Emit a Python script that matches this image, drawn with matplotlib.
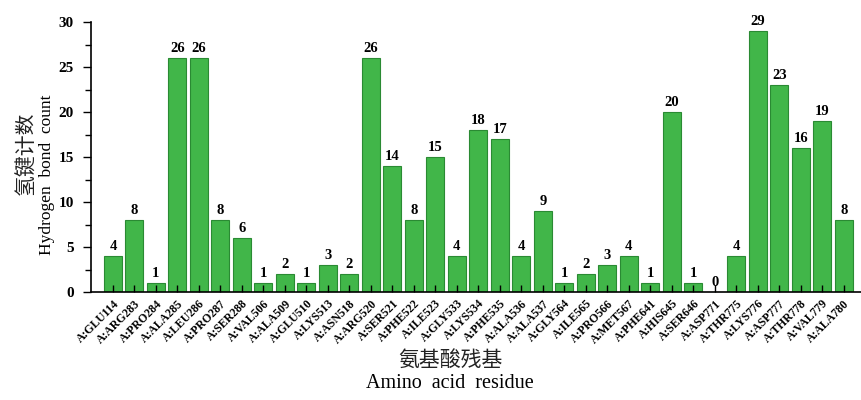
import matplotlib
matplotlib.use("Agg")
import matplotlib.pyplot as plt
from matplotlib.ticker import MultipleLocator

residues = ["A:GLU114", "A:ARG283", "A:PRO284", "A:ALA285", "A:LEU286", "A:PRO287",
            "A:SER288", "A:VAL506", "A:ALA509", "A:GLU510", "A:LYS513", "A:ASN518",
            "A:ARG520", "A:SER521", "A:PHE522", "A:ILE523", "A:GLY533", "A:LYS534",
            "A:PHE535", "A:ALA536", "A:ALA537", "A:GLY564", "A:ILE565", "A:PRO566",
            "A:MET567", "A:PHE641", "A:HIS645", "A:SER646", "A:ASP771", "A:THR775",
            "A:LYS776", "A:ASP777", "A:THR778", "A:VAL779", "A:ALA780"]
counts = [4, 8, 1, 26, 26, 8, 6, 1, 2, 1, 3, 2, 26, 14, 8, 15, 4, 18, 17, 4, 9,
          1, 2, 3, 4, 1, 20, 1, 0, 4, 29, 23, 16, 19, 8]

serif = ["Liberation Serif", "DejaVu Serif"]
cjk = ["Noto Sans CJK SC", "DejaVu Sans"]

fig = plt.figure(figsize=(8.62, 4.0), dpi=100)
ax = fig.add_axes([0.1056, 0.27, 0.8944, 0.675])

x = list(range(len(residues)))
ax.bar(x, counts, width=0.84, color="#41b649", edgecolor="#2a8a33", linewidth=0.8)
for xi, v in zip(x, counts):
    ax.text(xi, v + 0.3, str(v), ha="center", va="bottom", fontsize=10.5,
            fontweight="bold", family=serif)

ax.set_xlim(-1.02, 34.85)
ax.set_ylim(0, 30)
ax.yaxis.set_major_locator(MultipleLocator(5))
ax.yaxis.set_minor_locator(MultipleLocator(2.5))
ax.set_xticks(x)
ax.set_xticklabels(residues, rotation=45, ha="right", rotation_mode="anchor",
                   fontsize=8.5, fontweight="bold", family=serif)
for lbl in ax.get_yticklabels():
    lbl.set_fontfamily(serif)
    lbl.set_fontweight("bold")
    lbl.set_fontsize(11)
ax.tick_params(axis="x", direction="in", length=5, width=1, pad=4)
ax.tick_params(axis="y", which="major", direction="out", length=5.5, width=1, pad=7)
ax.tick_params(axis="y", which="minor", direction="out", length=4, width=1)
for s in ["top", "right"]:
    ax.spines[s].set_visible(False)
for s in ["left", "bottom"]:
    ax.spines[s].set_linewidth(1.2)

fig.text(0.031, 0.6175, "氢键计数", rotation=90, ha="center", va="center",
         fontsize=15, family=cjk, fontweight="light", color="#222222")
fig.text(0.0545, 0.5625, "Hydrogen  bond  count", rotation=90, ha="center", va="center",
         fontsize=12.5, family=serif)
fig.text(0.522, 0.1, "氨基酸残基", ha="center", va="center", fontsize=15, family=cjk,
         fontweight="light", color="#222222")
fig.text(0.522, 0.042, "Amino  acid  residue", ha="center", va="center", fontsize=14.5, family=serif)

fig.savefig("out.png", dpi=100)
